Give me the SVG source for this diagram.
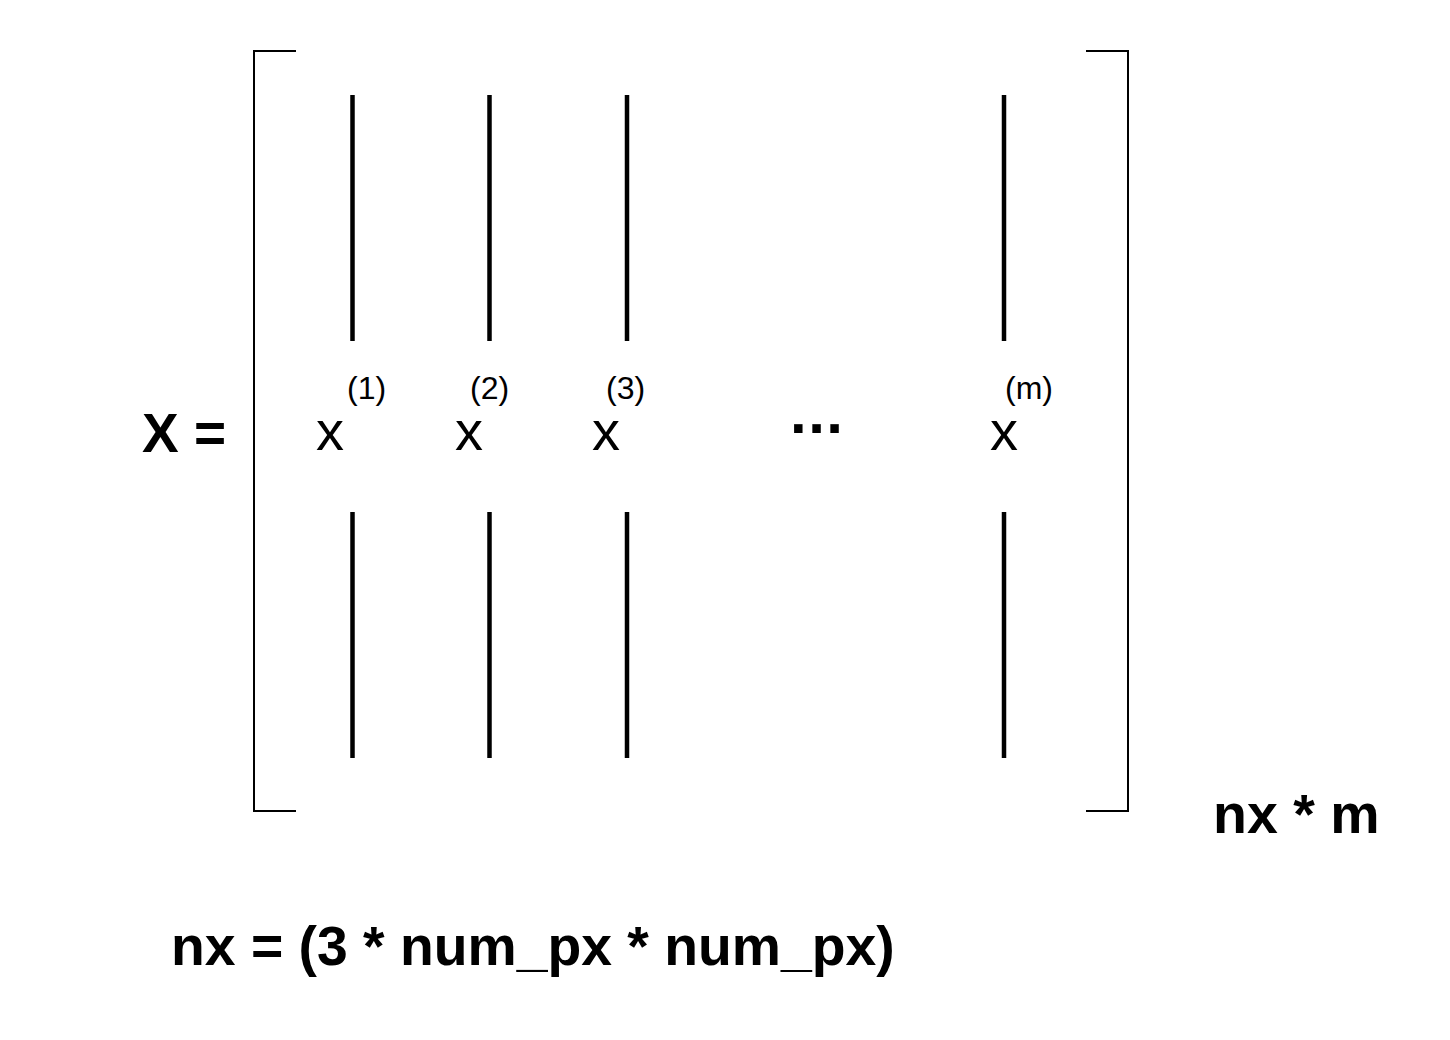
<svg xmlns="http://www.w3.org/2000/svg" width="1450" height="1040" viewBox="0 0 1450 1040">
<style>
.br{fill:none;stroke:#000;stroke-width:2}
.col{stroke:#000;stroke-width:4.5}
.t{font-family:"Liberation Sans",Arial,Helvetica,sans-serif;fill:#000}
.b{font-weight:bold}
.x{font-size:56px}
.s{font-size:32px}
</style>
<rect width="1450" height="1040" fill="#fff"/>
<g id="matrix-brackets">
<polyline class="br" points="296,51 254,51 254,811 296,811"/>
<polyline class="br" points="1086,51 1128,51 1128,811 1086,811"/>
</g>
<g id="columns">
<line class="col" x1="352.5" y1="95" x2="352.5" y2="341"/>
<line class="col" x1="352.5" y1="512" x2="352.5" y2="758"/>
<line class="col" x1="489.5" y1="95" x2="489.5" y2="341"/>
<line class="col" x1="489.5" y1="512" x2="489.5" y2="758"/>
<line class="col" x1="627" y1="95" x2="627" y2="341"/>
<line class="col" x1="627" y1="512" x2="627" y2="758"/>
<line class="col" x1="1004" y1="95" x2="1004" y2="341"/>
<line class="col" x1="1004" y1="512" x2="1004" y2="758"/>
</g>
<g id="x1"><text class="t x" x="316" y="450">x</text><text class="t s" x="347" y="399">(1)</text></g>
<g id="x2"><text class="t x" x="455" y="450">x</text><text class="t s" x="470" y="399">(2)</text></g>
<g id="x3"><text class="t x" x="592" y="450">x</text><text class="t s" x="606" y="399">(3)</text></g>
<g id="dots"><text class="t b" font-size="60" letter-spacing="1.5" x="790" y="433">...</text></g>
<g id="xm"><text class="t x" x="990" y="450">x</text><text class="t s" x="1005" y="399">(m)</text></g>
<g id="lhs"><text class="t b" font-size="55" x="142" y="452">X =</text></g>
<g id="dims"><text class="t b" font-size="55.5" x="1213" y="833">nx * m</text></g>
<g id="formula"><text class="t b" font-size="55.3" x="171" y="965">nx = (3 * num_px * num_px)</text></g>
</svg>
